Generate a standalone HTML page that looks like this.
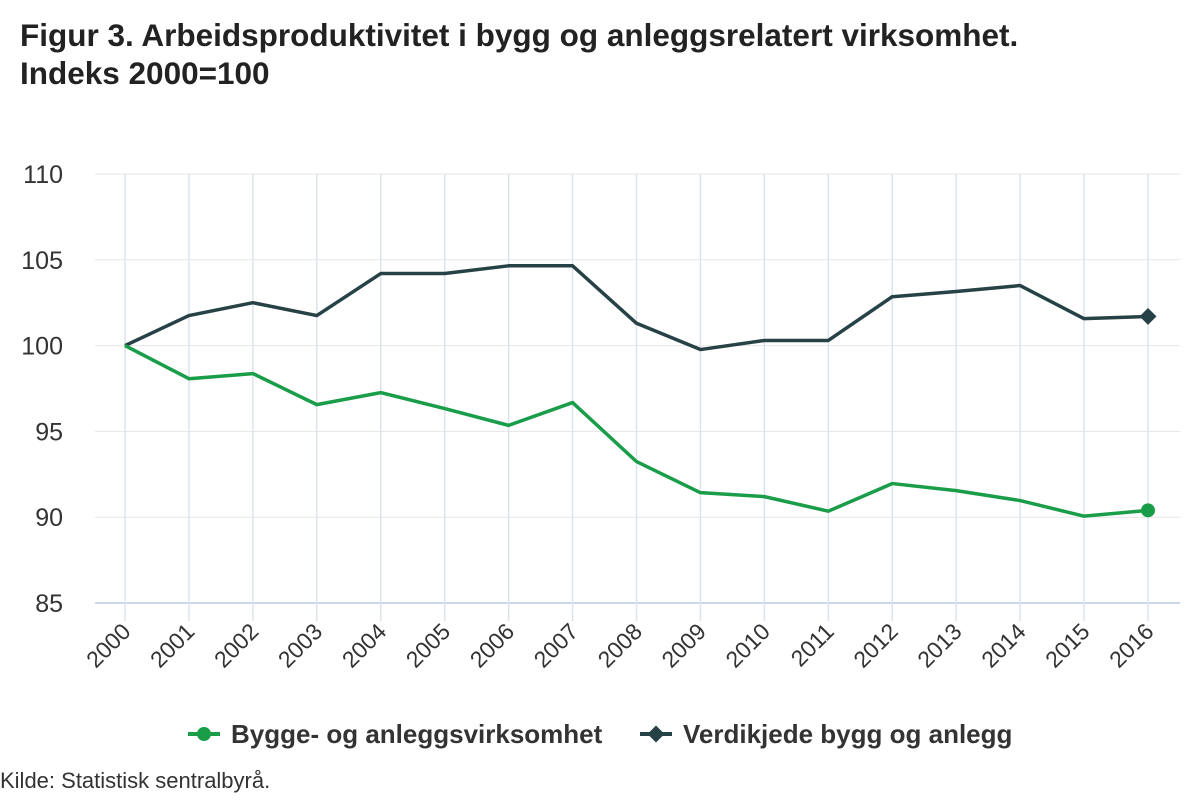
<!DOCTYPE html>
<html><head><meta charset="utf-8"><style>
body{margin:0;background:#fff;font-family:"Liberation Sans",Arial,sans-serif;}
</style></head><body>
<svg width="1200" height="800" xmlns="http://www.w3.org/2000/svg" font-family="Liberation Sans, Arial, sans-serif">
<text x="20" y="46" font-size="31.5" font-weight="bold" fill="#222">Figur 3. Arbeidsproduktivitet i bygg og anleggsrelatert virksomhet.</text>
<text x="20" y="84" font-size="31.5" font-weight="bold" fill="#222">Indeks 2000=100</text>
<g id="grid"></g><g id="series"></g>
<g>
<g>
<line x1="188" y1="734" x2="220" y2="734" stroke="#1a9d49" stroke-width="4"/><circle cx="204" cy="734" r="7" fill="#1a9d49"/>
<text x="231" y="743" font-size="26" font-weight="bold" fill="#333">Bygge- og anleggsvirksomhet</text></g>
<g>
<line x1="640" y1="734" x2="672" y2="734" stroke="#274247" stroke-width="4"/><rect x="650" y="728" width="12" height="12" transform="rotate(45 656 734)" fill="#274247"/>
<text x="683" y="743" font-size="26" font-weight="bold" fill="#333">Verdikjede bygg og anlegg</text></g>
</g>
<text x="0" y="788" font-size="22" fill="#333">Kilde: Statistisk sentralbyrå.</text>
</svg>
<script>
const years=["2000","2001","2002","2003","2004","2005","2006","2007","2008","2009","2010","2011","2012","2013","2014","2015","2016"];
const yTicks=[85,90,95,100,105,110];
const bygge=[100,98.07,98.37,96.56,97.26,96.33,95.35,96.68,93.24,91.43,91.2,90.35,91.96,91.55,90.97,90.06,90.4];
const verdikjede=[100,101.75,102.5,101.75,104.2,104.2,104.65,104.65,101.3,99.77,100.3,100.3,102.85,103.15,103.5,101.57,101.7];
const NS="http://www.w3.org/2000/svg";
const xS=i=>125+i*(1148-125)/(years.length-1);
const yS=v=>603-(v-85)*(603-174)/25;
function mk(t,a,p){const e=document.createElementNS(NS,t);for(const k in a)e.setAttribute(k,a[k]);p.appendChild(e);return e;}
const g=document.getElementById('grid'),s=document.getElementById('series');
yTicks.forEach(v=>{
 const l=mk('line',{x1:95,x2:1180,y1:yS(v),y2:yS(v),stroke:v===85?'#ccd6eb':'#e6e6e6','stroke-width':v===85?2:1},g);
 
 
 const t=mk('text',{x:63,y:yS(v)+9,'text-anchor':'end','font-size':25,fill:'#333'},g);t.textContent=v;
 
 
});
years.forEach((y,i)=>{
 const x=xS(i);
 const l=mk('line',{x1:x,x2:x,y1:174,y2:621,stroke:'#dde3ee','stroke-width':1.5},g);
 
 
 const t=mk('text',{x:x+7,y:633,'text-anchor':'end','font-size':23,fill:'#333',transform:`rotate(-45 ${x+7} 633)`},g);t.textContent=y;
 
 
});
function line(data,col,name){
 const p=mk('polyline',{points:data.map((v,i)=>xS(i)+','+yS(v)).join(' '),fill:'none',stroke:col,'stroke-width':3.5,'stroke-linejoin':'round'},s);
 
 
}
line(verdikjede,'#274247','line-verdikjede');
line(bygge,'#1a9d49','line-bygge');
const n=years.length-1;
const c=mk('circle',{cx:xS(n),cy:yS(bygge[n]),r:7,fill:'#1a9d49'},s);


const r=mk('rect',{x:xS(n)-6,y:yS(verdikjede[n])-6,width:12,height:12,fill:'#274247',transform:`rotate(45 ${xS(n)} ${yS(verdikjede[n])})`},s);


</script>
</body></html>
